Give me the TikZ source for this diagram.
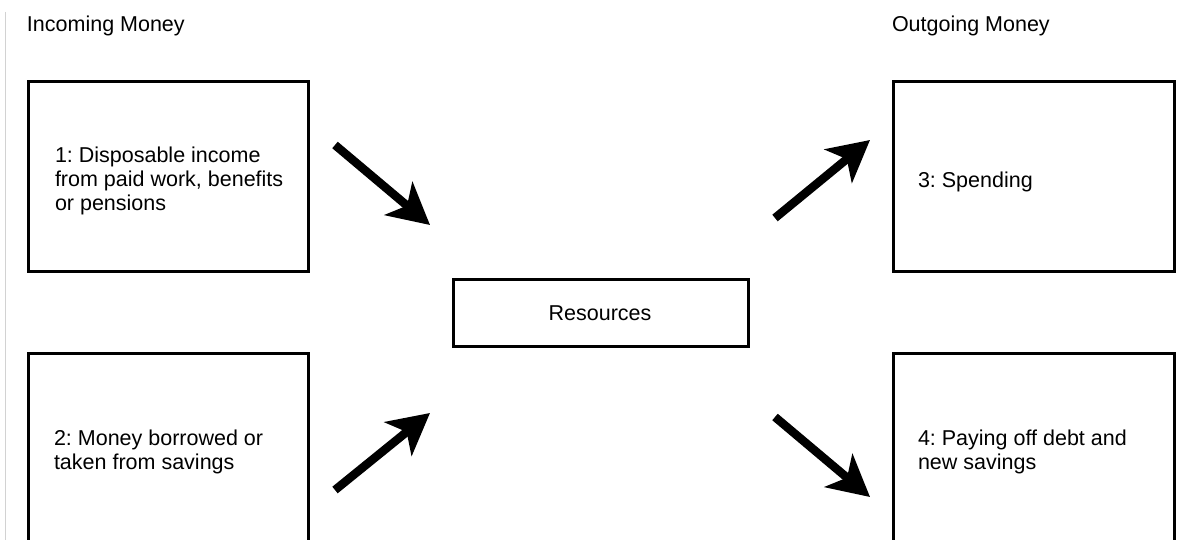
\documentclass[tikz,border=0pt]{standalone}
\usepackage{fontspec}
\setmainfont{Liberation Sans}
\usetikzlibrary{arrows.meta}
\begin{document}
\frenchspacing
\begin{tikzpicture}[x=1pt,y=-1pt,
  box/.style={draw=black,line width=3.2pt,inner sep=0pt,outer sep=0pt},
  txt/.style={inner sep=0pt,outer sep=0pt,align=left,font=\fontsize{21.5}{24}\selectfont\frenchspacing},
  flow/.style={line width=8.5pt,-{Stealth[length=41pt,width=43pt,inset=11pt]}}]
\useasboundingbox (0,0) rectangle (1198,540);
\clip (0,0) rectangle (1198,540);
\fill[white] (0,0) rectangle (1198,540);
\draw[gray!35,line width=1pt] (5,12) -- (5,540);
% headers
\node[txt,anchor=base west] (hin) at (27,32) {Incoming Money};
\node[txt,anchor=base west] (hout) at (892,32) {Outgoing Money};
% boxes
\node[box,minimum width=280pt,minimum height=190pt] (b1) at (168.5,176.5) {};
\node[box,minimum width=280pt,minimum height=210pt] (b2) at (168.5,458.5) {};
\node[box,minimum width=281pt,minimum height=190pt] (b3) at (1034,176.5) {};
\node[box,minimum width=281pt,minimum height=210pt] (b4) at (1034,458.5) {};
\node[box,minimum width=295pt,minimum height=67pt] (res) at (601,313) {};
% texts
\node[txt,anchor=west] (t1) at (55,181) {1: Disposable income\\from paid work, benefits\\or pensions};
\node[txt,anchor=west] (t2) at (54,452) {2: Money borrowed or\\taken from savings};
\node[txt,anchor=base west] (t3) at (918,187) {3: Spending};
\node[txt,anchor=west] (t4) at (918,452) {4: Paying off debt and\\new savings};
\node[txt,anchor=base] (tr) at (600,320) {Resources};
% arrows
\coordinate (a1s) at (335,145); \coordinate (a1e) at (430,225);
\coordinate (a2s) at (775,218); \coordinate (a2e) at (870,140);
\coordinate (a3s) at (335,490); \coordinate (a3e) at (430,413);
\coordinate (a4s) at (775,417); \coordinate (a4e) at (870,497);
\draw[flow] (a1s) -- (a1e);
\draw[flow] (a2s) -- (a2e);
\draw[flow] (a3s) -- (a3e);
\draw[flow] (a4s) -- (a4e);
\end{tikzpicture}
\end{document}
